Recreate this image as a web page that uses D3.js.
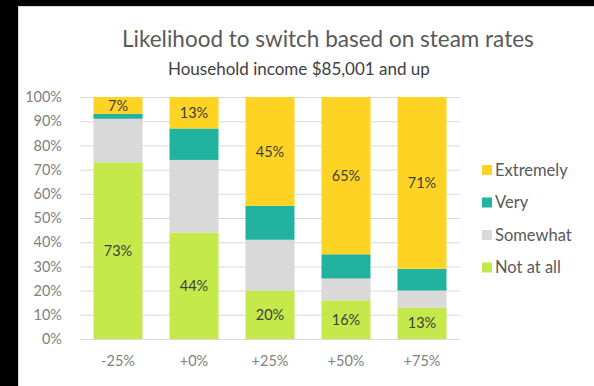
<!DOCTYPE html>
<html>
<head>
<meta charset="utf-8">
<script src="https://cdn.jsdelivr.net/npm/d3@7"></script>
<style>
  html, body { margin: 0; padding: 0; background: #000; }
  svg { display: block; }
  text { font-family: Lato, "Open Sans", sans-serif; }
</style>
</head>
<body>
<svg id="chart" width="594" height="386"></svg>
<script>
// Rate-change scenarios (x categories)
const categories = ["-25%", "+0%", "+25%", "+50%", "+75%"];

// Response levels, bottom to top of each stack
const seriesNames = ["Not at all", "Somewhat", "Very", "Extremely"];
const notAtAll  = [73, 44, 20, 16, 13];
const somewhat  = [18, 30, 21,  9,  7];
const very      = [ 2, 13, 14, 10,  9];
const extremely = [ 7, 13, 45, 65, 71];

const yTicks = [0, 10, 20, 30, 40, 50, 60, 70, 80, 90, 100];

// Segments that carry a value label
const labelledSeries = ["Not at all", "Extremely"];

const colors = {
  "Not at all": "#c5e84b",
  "Somewhat":   "#d9d9d9",
  "Very":       "#22b2a0",
  "Extremely":  "#ffd324"
};

const rows = categories.map((c, i) => ({
  category: c,
  "Not at all": notAtAll[i],
  "Somewhat": somewhat[i],
  "Very": very[i],
  "Extremely": extremely[i]
}));

const svg = d3.select("#chart");

// White card on the dark backdrop
svg.append("rect")
  .attr("x", 18.5).attr("y", 6.5)
  .attr("width", 576).attr("height", 390)
  .attr("fill", "#fff")
  .attr("stroke", "#d9d9d9");

const plot = { left: 80, right: 460, top: 97, bottom: 339 };

const x = d3.scaleBand()
  .domain(categories)
  .range([plot.left, plot.right])
  .paddingInner(0.355)
  .paddingOuter(0.1775);

const y = d3.scaleLinear()
  .domain([0, 100])
  .range([plot.bottom, plot.top]);

// Gridlines + y tick labels
const yAxis = d3.axisLeft(y)
  .tickValues(yTicks)
  .tickSize(-(plot.right - plot.left))
  .tickPadding(18)
  .tickFormat(d => d + "%");

const gy = svg.append("g")
  .attr("transform", `translate(${plot.left},0)`)
  .call(yAxis);
gy.select(".domain").remove();
gy.selectAll(".tick line").attr("stroke", "#d9d9d9").attr("stroke-width", 1);
gy.selectAll(".tick text")
  .attr("fill", "#808080")
  .attr("font-size", 14.5);

// Stacked bars
const stack = d3.stack().keys(seriesNames);
const layers = stack(rows);

const layerG = svg.append("g").selectAll("g")
  .data(layers)
  .join("g")
  .attr("fill", d => colors[d.key]);

layerG.selectAll("rect")
  .data(d => d)
  .join("rect")
  .attr("x", d => x(d.data.category))
  .attr("width", x.bandwidth())
  .attr("y", d => y(d[1]))
  .attr("height", d => y(d[0]) - y(d[1]));

// Value labels centred in their segment
layers.filter(l => labelledSeries.includes(l.key)).forEach(layer => {
  svg.append("g").selectAll("text")
    .data(layer)
    .join("text")
    .attr("x", d => x(d.data.category) + x.bandwidth() / 2)
    .attr("y", d => (y(d[0]) + y(d[1])) / 2)
    .attr("dy", "0.35em")
    .attr("text-anchor", "middle")
    .attr("font-size", 14.5)
    .attr("fill", "#404040")
    .text(d => (d[1] - d[0]) + "%");
});

// Baseline and category labels
const xAxis = d3.axisBottom(x).tickSize(0).tickPadding(17);
const gx = svg.append("g")
  .attr("transform", `translate(0,${plot.bottom})`)
  .call(xAxis);
gx.select(".domain").attr("stroke", "#d9d9d9");
gx.selectAll(".tick text")
  .attr("fill", "#808080")
  .attr("font-size", 14.5);

// Titles
svg.append("text")
  .attr("x", 122).attr("y", 47)
  .attr("font-size", 22.5)
  .attr("fill", "#595959")
  .text("Likelihood to switch based on steam rates");

svg.append("text")
  .attr("x", 168).attr("y", 75)
  .attr("font-size", 17)
  .attr("fill", "#404040")
  .text("Household income $85,001 and up");

// Legend, top entry is the top of the stack
const legendItems = seriesNames.slice().reverse();
const legend = svg.append("g").selectAll("g")
  .data(legendItems)
  .join("g")
  .attr("transform", (d, i) => `translate(482,${170 + i * 32.5})`);

legend.append("rect")
  .attr("x", 0).attr("y", -5)
  .attr("width", 10).attr("height", 10)
  .attr("fill", d => colors[d]);

legend.append("text")
  .attr("x", 13)
  .attr("dy", "0.35em")
  .attr("font-size", 16.5)
  .attr("fill", "#595959")
  .text(d => d);
</script>
</body>
</html>
